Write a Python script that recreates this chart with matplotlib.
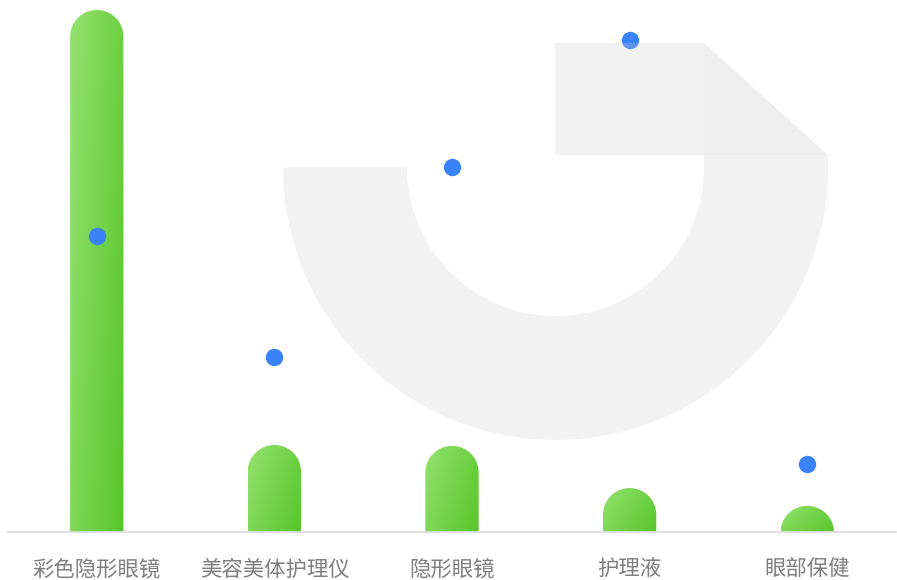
import numpy as np
import matplotlib
matplotlib.use("Agg")
import matplotlib.pyplot as plt
from matplotlib.path import Path
from matplotlib.patches import PathPatch, Polygon
from matplotlib.colors import LinearSegmentedColormap

plt.rcParams['font.family'] = ['Noto Sans CJK SC', 'DejaVu Sans']

categories = ['彩色隐形眼镜', '美容美体护理仪', '隐形眼镜', '护理液', '眼部保健']
sales = [1200, 200, 198, 101, 60]
share = [56.7, 33.5, 69.9, 94.3, 13.0]

W, H = 897, 580
fig = plt.figure(figsize=(W / 100, H / 100), dpi=100)
fig.patch.set_facecolor('white')

# plot area in pixels: x 8..896, baseline at y=532, top at y=10
left, right, top, bottom = 8, 896, 10, 532
ax = fig.add_axes([left / W, (H - bottom) / H, (right - left) / W, (bottom - top) / H])
ax.set_zorder(1)
ax.set_xlim(-0.5, len(categories) - 0.5)
ax.set_ylim(0, 1200)
ax.patch.set_visible(False)
for s in ['top', 'right', 'left']:
    ax.spines[s].set_visible(False)
ax.spines['bottom'].set_color('#dedede')
ax.spines['bottom'].set_linewidth(1.3)
ax.set_yticks([])
ax.set_xticks(range(len(categories)))
ax.set_xticklabels(categories, fontsize=15.4, color='#7f7f7f')
ax.tick_params(axis='x', length=0, pad=19)

cmap = LinearSegmentedColormap.from_list('bar', ['#94e270', '#57c629'])

bar_w = 0.3
p0 = ax.transData.transform((0, 0))
p1 = ax.transData.transform((1, 1))
px_x = p1[0] - p0[0]
px_y = p1[1] - p0[1]

for i, h in enumerate(sales):
    x0, x1 = i - bar_w / 2, i + bar_w / 2
    rx = bar_w / 2
    ry = rx * px_x / px_y
    if h < ry:
        ry = h
    cy = h - ry
    ang = np.linspace(np.pi, 0, 60)
    verts = [(x0, 0), (x0, cy)]
    verts += list(zip(i + rx * np.cos(ang), cy + ry * np.sin(ang)))
    verts += [(x1, cy), (x1, 0), (x0, 0)]
    codes = [Path.MOVETO] + [Path.LINETO] * (len(verts) - 2) + [Path.CLOSEPOLY]
    patch = PathPatch(Path(verts, codes), facecolor='none', edgecolor='none')
    ax.add_patch(patch)
    u = np.linspace(0, 1, 60)[None, :]
    v = np.linspace(0, 1, 200)[:, None]
    t = 0.65 * u + 0.35 * v
    im = ax.imshow(t, cmap=cmap, vmin=0, vmax=1, extent=(x0, x1, 0, h),
                   origin='upper', aspect='auto', interpolation='bilinear')
    im.set_clip_path(patch)

ax.set_xlim(-0.5, len(categories) - 0.5)
ax.set_ylim(0, 1200)

ax2 = ax.twinx()
ax2.set_zorder(2)
ax2.patch.set_visible(False)
ax2.set_ylim(0, 100)
ax2.axis('off')
ax2.plot(range(len(categories)), share, 'o', color='#3a82f7', markersize=12.5,
         markeredgewidth=0, clip_on=False)

# background logo mark, drawn translucent over the plot
ov = fig.add_axes([0, 0, 1, 1])
ov.set_zorder(3)
ov.set_xlim(0, W)
ov.set_ylim(H, 0)
ov.axis('off')
cx, cy = 555.5, 167.5
ro, ri = 272.5, 148.5
a = np.linspace(np.pi, 0, 200)
outer = list(zip(cx + ro * np.cos(a), cy + ro * np.sin(a)))
inner = list(zip(cx + ri * np.cos(a[::-1]), cy + ri * np.sin(a[::-1])))
shape = ([(cx - ro, cy)] + outer + [(cx + ro, 155), (cx + ri, 155), (cx + ri, 43),
         (555, 43), (555, 155), (cx + ri, 155), (cx + ri, cy)] + inner)
ov.add_patch(Polygon(shape, closed=True, facecolor='#cfcfcf', alpha=0.25,
                     edgecolor='none'))
ov.add_patch(Polygon([(cx + ri, 43), (828, 155), (cx + ri, 155)], closed=True,
                     facecolor='#bebebe', alpha=0.25, edgecolor='none'))

fig.savefig('out.png', dpi=100, facecolor='white')
